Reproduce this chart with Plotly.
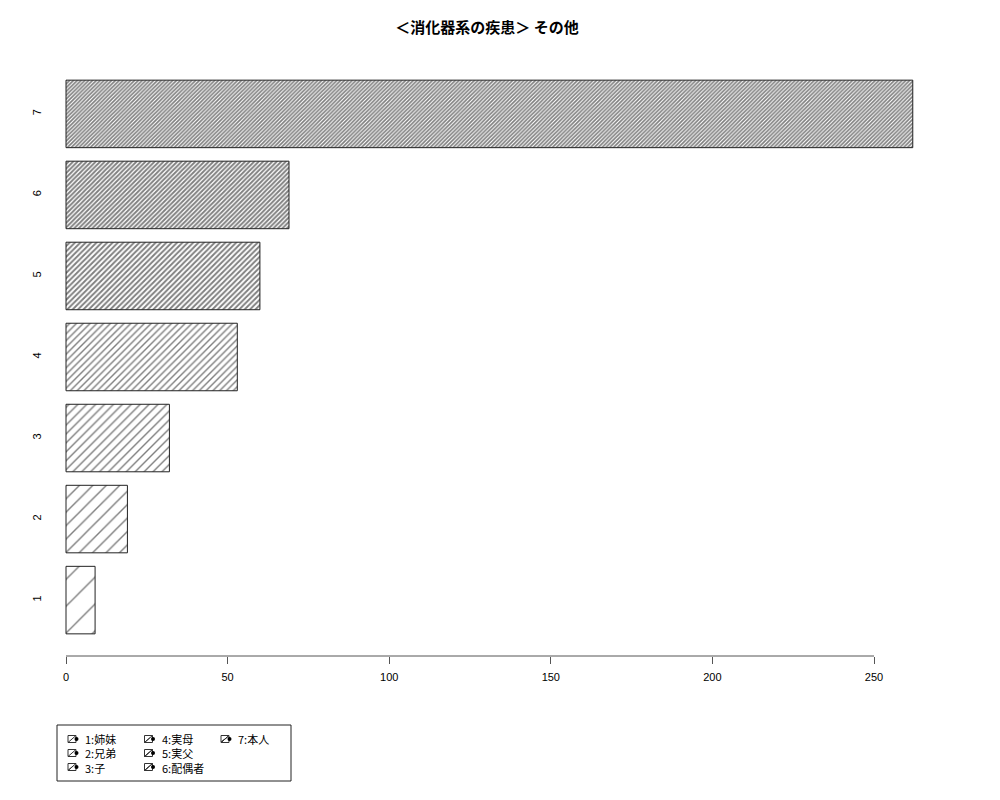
import plotly.graph_objects as go

# 消化器系の疾患 その他 : 続柄別の件数
labels = ["1", "2", "3", "4", "5", "6", "7"]
values = [9, 19, 32, 53, 60, 69, 262]
legend_names = ["1:姉妹", "2:兄弟", "3:子", "4:実母", "5:実父", "6:配偶者", "7:本人"]
x_ticks = [0, 50, 100, 150, 200, 250]

# hatching spacing (px) per bar, denser for the later bars
hatch_size = [19, 9.5, 6.3, 4.8, 3.8, 3.2, 2.7]

# the page puts an 8px body margin round the plot, so the figure is drawn 8px smaller
OFF = 8
W, H = 1000 - OFF, 800 - OFF
# plot area in page pixels: x 50..950, y 58..656
L, R, T, B = 50 - OFF, 50, 58 - OFF, 800 - 656

def px_x(p):
    return (p - 50) / 900

def px_y(p):
    return (656 - p) / (656 - 58)

jp = "Noto Sans CJK JP"
lat = "Liberation Sans"

fig = go.Figure()
for i in range(len(values)):
    s = hatch_size[i]
    sol = 1.4 / s if s > 4.5 else min(0.6, 1.9 / s)
    fig.add_trace(go.Bar(
        y=[labels[i]], x=[values[i]], orientation="h",
        name=legend_names[i], showlegend=False,
        marker=dict(color="white",
                    line=dict(color="#222", width=1),
                    pattern=dict(shape="/", size=s, solidity=sol,
                                 fgcolor="black", bgcolor="white")),
        hoverinfo="x",
    ))

fig.update_layout(
    width=W, height=H,
    margin=dict(l=L, r=R, t=T, b=B),
    paper_bgcolor="white", plot_bgcolor="white",
    barmode="overlay", bargap=1 / 6,
    title=dict(text="<b>＜消化器系の疾患＞ その他</b>", x=px_x(487), xref="paper",
               xanchor="center", y=1 - (28 - OFF) / H, yanchor="middle",
               font=dict(family=jp, size=15, color="black")),
    font=dict(family=lat, size=11, color="black"),
)

fig.update_xaxes(
    range=[-(66 - 50) / 3.232, (950 - 66) / 3.232],
    tickvals=x_ticks, ticks="outside", ticklen=7, tickcolor="#555",
    ticklabelstandoff=4,
    showline=False, showgrid=False, zeroline=False,
    tickfont=dict(family=lat, size=11, color="black"),
)
fig.update_yaxes(
    type="category", categoryorder="array", categoryarray=labels,
    range=[-0.69, 6.69], tickangle=-90, ticks="",
    ticklabelstandoff=6,
    showline=False, showgrid=False, zeroline=False,
    tickfont=dict(family=lat, size=11, color="black"),
)

# R-style axis line running only between the outer ticks
fig.add_shape(type="line", xref="x", yref="paper", x0=x_ticks[0], x1=x_ticks[-1],
              y0=0, y1=0, line=dict(color="#555", width=1))

# legend frame
fig.add_shape(type="rect", xref="paper", yref="paper",
              x0=px_x(57), x1=px_x(291), y0=px_y(781), y1=px_y(725),
              line=dict(color="#222", width=1), fillcolor="rgba(0,0,0,0)")

# legend keys, filled column by column like R's legend(ncol=3)
for i in range(len(legend_names)):
    col, row = i // 3, i % 3
    ix = 68 + col * 76.5
    iy = 739 + row * 14
    fig.add_shape(type="rect", xref="paper", yref="paper",
                  x0=px_x(ix), x1=px_x(ix + 8), y0=px_y(iy + 3.5), y1=px_y(iy - 3.5),
                  line=dict(color="#333", width=1), fillcolor="white")
    n_hatch = 1 + i // 2
    for k in range(n_hatch):
        f = (k + 1) / (n_hatch + 1)
        fig.add_shape(type="line", xref="paper", yref="paper",
                      x0=px_x(ix), y0=px_y(iy + 3.5),
                      x1=px_x(ix + 8 * min(1, 2 * f)),
                      y1=px_y(iy + 3.5 - 7 * min(1, 2 * f)),
                      line=dict(color="#333", width=1))
    fig.add_shape(type="circle", xref="paper", yref="paper",
                  x0=px_x(ix + 6.5), x1=px_x(ix + 10.5), y0=px_y(iy + 2), y1=px_y(iy - 2),
                  line=dict(color="black", width=0), fillcolor="black")

# legend texts, one block per column
for col in range(3):
    names = legend_names[col * 3:col * 3 + 3]
    fig.add_annotation(text="<br>".join(names), xref="paper", yref="paper",
                       x=px_x(68 + col * 76.5 + 15), y=px_y(729), xanchor="left",
                       yanchor="top", align="left", showarrow=False,
                       font=dict(family=jp, size=11, color="black"))

fig.write_html("out.html")
